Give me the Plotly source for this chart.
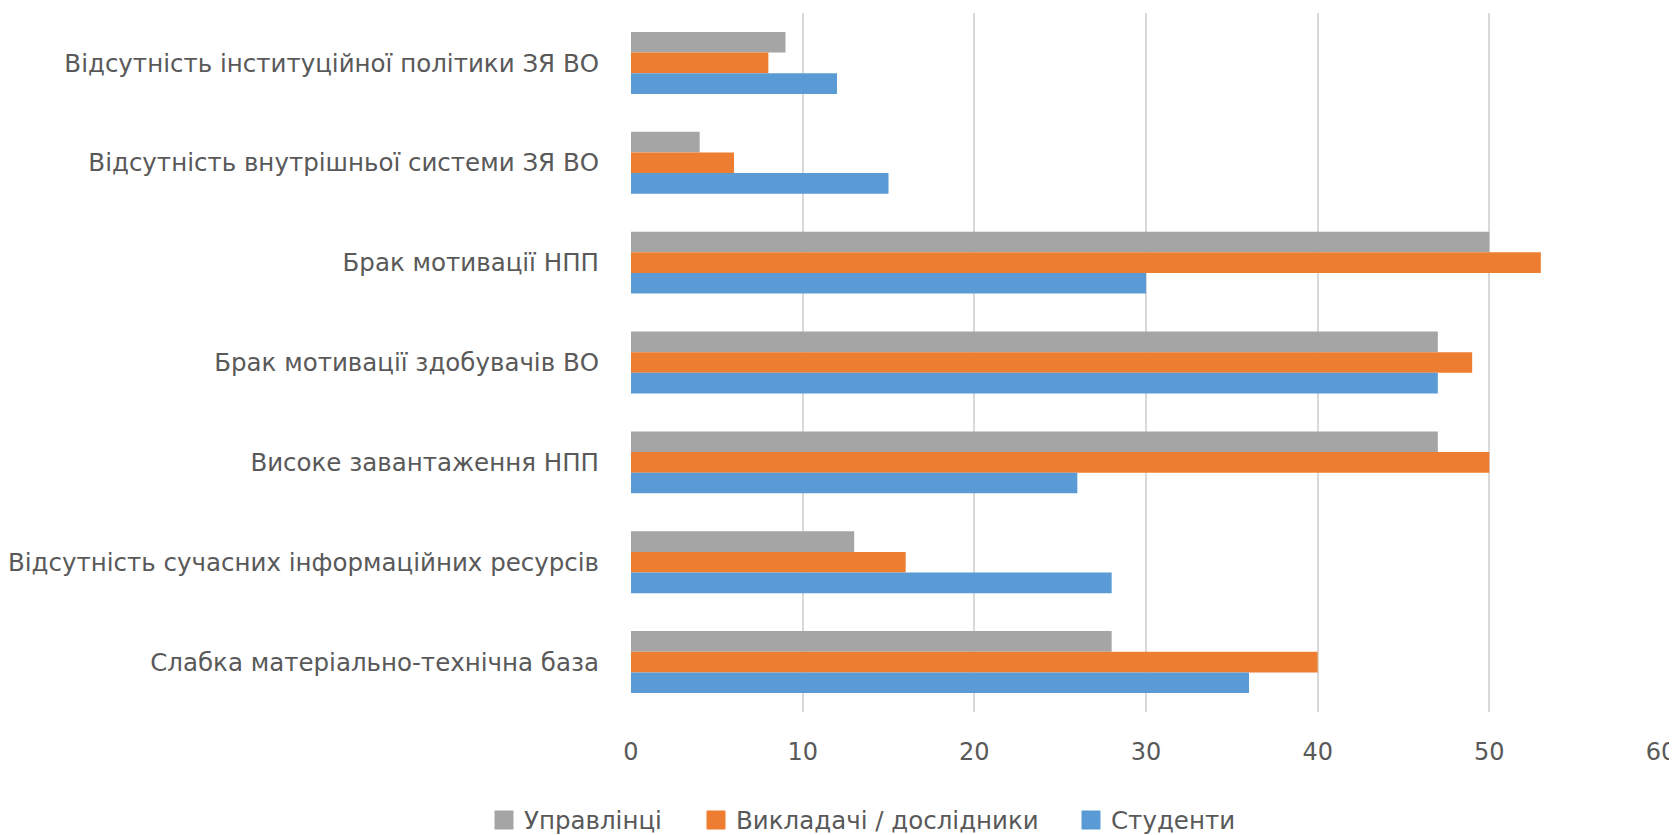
import plotly.graph_objects as go

categories = [
    "Відсутність інституційної політики ЗЯ ВО",
    "Відсутність внутрішньої системи ЗЯ ВО",
    "Брак мотивації НПП",
    "Брак мотивації здобувачів ВО",
    "Високе завантаження НПП",
    "Відсутність сучасних інформаційних ресурсів",
    "Слабка матеріально-технічна база",
]
series_names = ["Управлінці", "Викладачі / дослідники", "Студенти"]
managers = [9, 4, 50, 47, 47, 13, 28]
teachers = [8, 6, 53, 49, 50, 16, 40]
students = [12, 15, 30, 47, 26, 28, 36]
colors = ["#A5A5A5", "#ED7D31", "#5B9BD5"]
x_ticks = [0, 10, 20, 30, 40, 50, 60]

font_family = "DejaVu Sans"
text_color = "#595959"
FIG_W, FIG_H = 1669, 827
legend_x_px = [476, 688, 1063]
legend_ids = ["legend", "legend2", "legend3"]

fig = go.Figure()
for name, vals, col in zip(series_names, [managers, teachers, students], colors):
    fig.add_trace(go.Bar(
        y=categories, x=vals, name=name, orientation="h",
        marker=dict(color=col, line=dict(width=0)),
        showlegend=False,
    ))
# legend entries with larger square symbols, one legend per entry
for name, col, lid in zip(series_names, colors, legend_ids):
    fig.add_trace(go.Scatter(
        x=[None], y=[None], mode="markers", name=name,
        marker=dict(symbol="square", size=16, color=col,
                    line=dict(color=col, width=3)),
        showlegend=True, hoverinfo="skip", legend=lid,
    ))

legend_common = dict(orientation="h", xref="container", xanchor="left",
                     yref="container", y=15 / FIG_H, yanchor="middle",
                     font=dict(size=24.5, color=text_color,
                               family=font_family),
                     itemwidth=30, itemsizing="trace",
                     bgcolor="rgba(0,0,0,0)", borderwidth=0)

fig.update_layout(
    width=FIG_W, height=FIG_H,
    margin=dict(l=623, r=16, t=5, b=123),
    paper_bgcolor="white", plot_bgcolor="white",
    barmode="group", bargap=0.38, bargroupgap=0,
    font=dict(family=font_family, size=24.5, color=text_color),
    showlegend=True,
    legend=dict(x=legend_x_px[0] / FIG_W, **legend_common),
    legend2=dict(x=legend_x_px[1] / FIG_W, **legend_common),
    legend3=dict(x=legend_x_px[2] / FIG_W, **legend_common),
    xaxis=dict(range=[0, 60], tickvals=x_ticks, showgrid=True,
               gridcolor="#D9D9D9", gridwidth=1.5, zeroline=False,
               showline=False, ticklabelstandoff=23, fixedrange=True,
               tickfont=dict(size=24), automargin=False),
    yaxis=dict(autorange="reversed", showgrid=False, showline=False,
               ticklabelstandoff=31, fixedrange=True, automargin=False),
)

fig.write_html("out.html")
